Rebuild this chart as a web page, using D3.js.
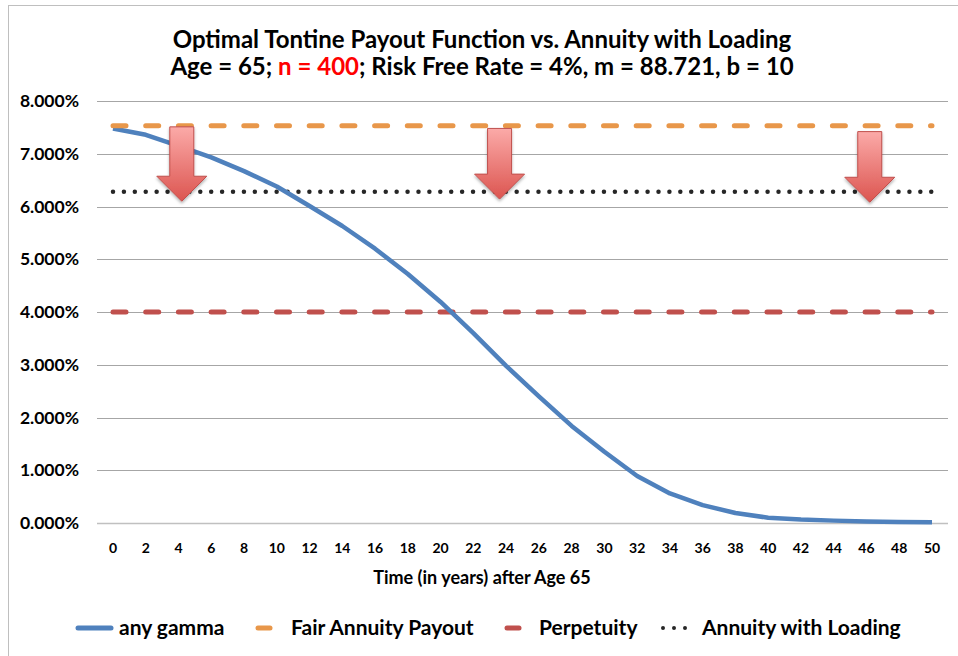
<!DOCTYPE html>
<html>
<head>
<meta charset="utf-8">
<script src="https://cdn.jsdelivr.net/npm/d3@7"></script>
<style>
  html, body { margin: 0; padding: 0; background: #fff; }
  svg { display: block; font-family: Lato, "Open Sans", sans-serif; font-weight: bold; }
</style>
</head>
<body>
<svg id="svg" width="958" height="656"></svg>
<script>
// data
let years = [0, 2, 4, 6, 8, 10, 12, 14, 16, 18, 20, 22, 24, 26, 28, 30, 32, 34, 36, 38, 40, 42, 44, 46, 48, 50];
let anyGamma = [7.48, 7.36, 7.15, 6.93, 6.67, 6.38, 6.01, 5.63, 5.20, 4.72, 4.19, 3.60, 2.98, 2.40, 1.84, 1.35, 0.89, 0.56, 0.34, 0.19, 0.10, 0.065, 0.045, 0.03, 0.02, 0.015];
let fairAnnuity = 7.53;
let perpetuity = 4.0;
let loadedAnnuity = 6.28;
let yTicks = [0, 1, 2, 3, 4, 5, 6, 7, 8];
// arrows: year, top value, tip value
let arrows = [[4.2, 7.51, 6.10], [23.6, 7.48, 6.14], [46.2, 7.42, 6.08]];

let svg = d3.select("#svg");

let x = d3.scaleLinear().domain([0, 50]).range([113, 932]);
let y = d3.scaleLinear().domain([0, 8]).range([523, 101]);
let plotLeft = 97, plotRight = 948;

/* chart border */
svg.append("rect")
  .attr("x", 8.5).attr("y", 5.5)
  .attr("width", 980).attr("height", 700)
  .attr("fill", "none")
  .attr("stroke", "#bfbfbf");

/* titles */
let title = svg.append("text")
  .attr("text-anchor", "middle")
  .attr("font-size", 24)
  .attr("fill", "#000");
title.append("tspan").attr("x", 482).attr("y", 48)
  .text("Optimal Tontine Payout Function vs. Annuity with Loading");
let t2 = title.append("tspan").attr("x", 482).attr("y", 75);
t2.append("tspan").text("Age = 65; ");
t2.append("tspan").attr("fill", "#ff0000").text("n = 400");
t2.append("tspan").text("; Risk Free Rate = 4%, m = 88.721, b = 10");

/* gridlines */
svg.append("g")
  .selectAll("line")
  .data(yTicks)
  .join("line")
  .attr("x1", plotLeft).attr("x2", plotRight)
  .attr("y1", d => Math.round(y(d)) + 0.5)
  .attr("y2", d => Math.round(y(d)) + 0.5)
  .attr("stroke", d => d === 0 ? "#c0c0c0" : "#a6a6a6")
  .attr("stroke-width", d => d === 0 ? 1.5 : 1);

/* y axis labels */
svg.append("g")
  .selectAll("text")
  .data(yTicks)
  .join("text")
  .attr("x", 79)
  .attr("y", d => y(d) + 6)
  .attr("text-anchor", "end")
  .attr("font-size", 17.5)
  .text(d => d.toFixed(3) + "%");

/* x axis labels */
svg.append("g")
  .selectAll("text")
  .data(years)
  .join("text")
  .attr("x", d => x(d))
  .attr("y", 553)
  .attr("text-anchor", "middle")
  .attr("font-size", 14)
  .text(d => d);

svg.append("text")
  .attr("x", 482).attr("y", 584)
  .attr("text-anchor", "middle")
  .attr("font-size", 18)
  .text("Time (in years) after Age 65");

/* horizontal reference lines */
let flat = v => d3.line()([[x(0), y(v)], [x(50), y(v)]]);

svg.append("path")
  .attr("d", flat(perpetuity))
  .attr("stroke", "#c0504d").attr("stroke-width", 5)
  .attr("stroke-linecap", "round")
  .attr("stroke-dasharray", "13,19.7")
  .attr("fill", "none");

svg.append("path")
  .attr("d", flat(loadedAnnuity))
  .attr("stroke", "#262626").attr("stroke-width", 4.5)
  .attr("stroke-linecap", "round")
  .attr("stroke-dasharray", "0,10.91")
  .attr("fill", "none");

/* any gamma curve */
svg.append("path")
  .datum(years.map((d, i) => [d, anyGamma[i]]))
  .attr("d", d3.line().x(d => x(d[0])).y(d => y(d[1])))
  .attr("stroke", "#4f81bd").attr("stroke-width", 4.5)
  .attr("stroke-linejoin", "round")
  .attr("fill", "none");

svg.append("path")
  .attr("d", flat(fairAnnuity))
  .attr("stroke", "#e8974a").attr("stroke-width", 5)
  .attr("stroke-linecap", "round")
  .attr("stroke-dasharray", "13,19.7")
  .attr("fill", "none");

/* arrows */
let defs = svg.append("defs");
let grad = defs.append("linearGradient")
  .attr("id", "arrowFill")
  .attr("x1", 0).attr("y1", 0).attr("x2", 0).attr("y2", 1);
grad.append("stop").attr("offset", "0%").attr("stop-color", "#fbaaa8");
grad.append("stop").attr("offset", "100%").attr("stop-color", "#dc5550");
let shadow = defs.append("filter").attr("id", "shadow")
  .attr("x", "-30%").attr("y", "-30%").attr("width", "160%").attr("height", "160%");
shadow.append("feDropShadow")
  .attr("dx", 0).attr("dy", 2).attr("stdDeviation", 1.5)
  .attr("flood-color", "#000").attr("flood-opacity", 0.3);

arrows.forEach(a => {
  let cx = x(a[0]), top = y(a[1]), tip = y(a[2]);
  let sw = 12, hw = 25, hl = 25;
  let pts = [
    [cx - sw, top], [cx + sw, top], [cx + sw, tip - hl], [cx + hw, tip - hl],
    [cx, tip], [cx - hw, tip - hl], [cx - sw, tip - hl]
  ];
  svg.append("path")
    .attr("d", d3.line()(pts) + "Z")
    .attr("fill", "url(#arrowFill)")
    .attr("stroke", "#c0504d")
    .attr("stroke-width", 1)
    .attr("filter", "url(#shadow)");
});

/* legend */
let legend = svg.append("g").attr("font-size", 21);
let ly = 628;

legend.append("line")
  .attr("x1", 78).attr("x2", 111).attr("y1", ly).attr("y2", ly)
  .attr("stroke", "#4f81bd").attr("stroke-width", 5).attr("stroke-linecap", "round");
legend.append("text").attr("x", 119).attr("y", ly + 7).text("any gamma");

legend.append("line")
  .attr("x1", 258).attr("x2", 270).attr("y1", ly).attr("y2", ly)
  .attr("stroke", "#e8974a").attr("stroke-width", 5).attr("stroke-linecap", "round");
legend.append("text").attr("x", 291).attr("y", ly + 7).text("Fair Annuity Payout");

legend.append("line")
  .attr("x1", 507).attr("x2", 519).attr("y1", ly).attr("y2", ly)
  .attr("stroke", "#c0504d").attr("stroke-width", 5).attr("stroke-linecap", "round");
legend.append("text").attr("x", 539).attr("y", ly + 7).text("Perpetuity");

legend.append("line")
  .attr("x1", 663).attr("x2", 696).attr("y1", ly).attr("y2", ly)
  .attr("stroke", "#262626").attr("stroke-width", 4).attr("stroke-linecap", "round")
  .attr("stroke-dasharray", "0,11");
legend.append("text").attr("x", 702).attr("y", ly + 7).text("Annuity with Loading");
</script>
</body>
</html>
